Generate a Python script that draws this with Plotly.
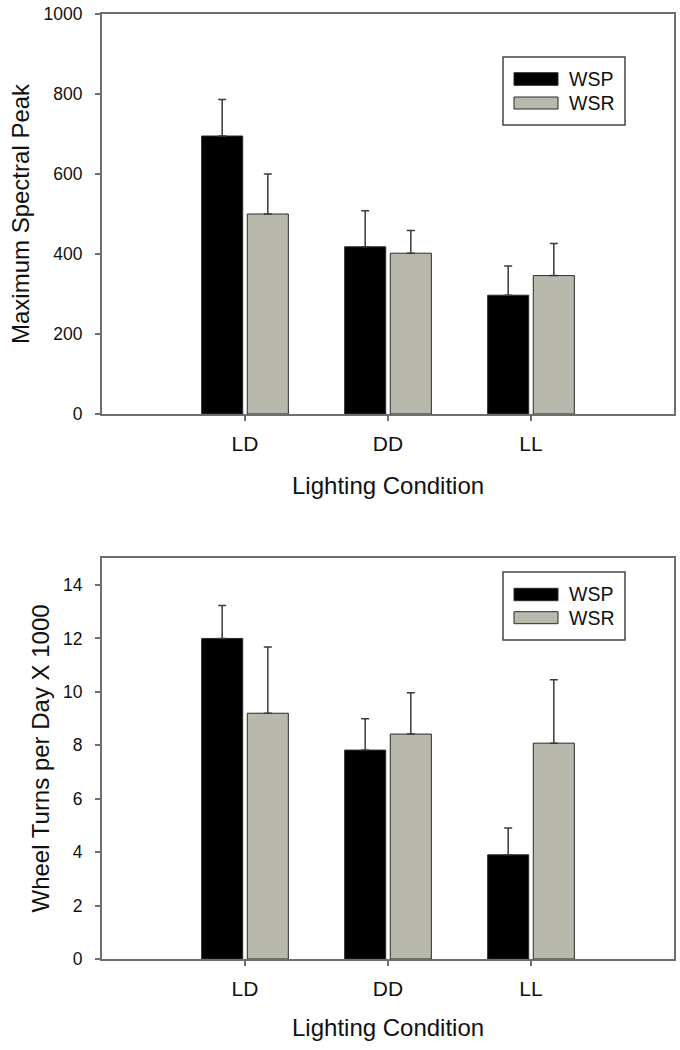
import plotly.graph_objects as go

# ---------------- data ----------------
conditions = ["LD", "DD", "LL"]
series_names = ["WSP", "WSR"]

peak_wsp = [695, 418, 297]
peak_wsp_err = [91, 90, 73]
peak_wsr = [500, 402, 346]
peak_wsr_err = [100, 57, 80]

turns_wsp = [12.0, 7.82, 3.90]
turns_wsp_err = [1.23, 1.17, 1.00]
turns_wsr = [9.2, 8.42, 8.08]
turns_wsr_err = [2.48, 1.55, 2.37]

peak_ticks = [0, 200, 400, 600, 800, 1000]
turns_ticks = [0, 2, 4, 6, 8, 10, 12, 14]

# ---------------- style ----------------
FONT = "Arial, 'Liberation Sans', Helvetica, sans-serif"
COL_WSP = "#000000"
COL_WSR = "#b8b8ac"
OUTLINE = "#2a2a2a"
AXIS = "#6e6e6e"
ERR = "#3a3a3a"
TXT = "#111111"

W, H = 680, 1050
ML = 102
MT = 14
MR = W - 674
MB = H - 959
PW = W - ML - MR
PH = H - MT - MB


def px_x(p):
    return (p - ML) / PW


def px_y(p):
    return (H - MB - p) / PH


fig = go.Figure()


def add_bars(vals, errs, name, color, xa, ya):
    fig.add_trace(go.Bar(
        x=conditions, y=vals, name=name,
        marker=dict(color=color, line=dict(color=OUTLINE, width=1)),
        error_y=dict(type="data", symmetric=False, array=errs,
                     arrayminus=[0] * len(errs), color=ERR,
                     thickness=1.5, width=4),
        xaxis=xa, yaxis=ya, showlegend=False,
    ))


add_bars(peak_wsp, peak_wsp_err, series_names[0], COL_WSP, "x", "y")
add_bars(peak_wsr, peak_wsr_err, series_names[1], COL_WSR, "x", "y")
add_bars(turns_wsp, turns_wsp_err, series_names[0], COL_WSP, "x2", "y2")
add_bars(turns_wsr, turns_wsr_err, series_names[1], COL_WSR, "x2", "y2")

top_dom = [px_y(414), 1.0]
bot_dom = [0.0, px_y(558.3)]

xcommon = dict(
    type="category", range=[-1, 3], showline=True, linecolor=AXIS,
    linewidth=2, mirror=True, ticks="outside", ticklen=5, tickwidth=1.5,
    tickcolor=AXIS, showgrid=False, zeroline=False, automargin=False,
    tickfont=dict(family=FONT, size=21, color=TXT),
    ticklabelstandoff=5, ticklabeloverflow="allow",
)
ycommon = dict(
    showline=True, linecolor=AXIS, linewidth=2, mirror=True,
    ticks="outside", ticklen=5, tickwidth=1.5, tickcolor=AXIS,
    showgrid=False, zeroline=False, automargin=False,
    tickfont=dict(family=FONT, size=17.5, color=TXT),
    ticklabelstandoff=9, ticklabeloverflow="allow",
)

fig.update_layout(
    template="none",
    width=W, height=H,
    margin=dict(l=ML, r=MR, t=MT, b=MB, autoexpand=False),
    paper_bgcolor="white", plot_bgcolor="white",
    barmode="group", bargap=0.362, bargroupgap=0.1,
    showlegend=False,
    xaxis=dict(xcommon, domain=[0, 1], anchor="y"),
    yaxis=dict(ycommon, domain=top_dom, anchor="x", range=[0, 1000],
               tickvals=peak_ticks),
    xaxis2=dict(xcommon, domain=[0, 1], anchor="y2"),
    yaxis2=dict(ycommon, domain=bot_dom, anchor="x2", range=[0, 15],
                tickvals=turns_ticks),
)

# ---------------- axis titles ----------------
title_font = dict(family=FONT, size=24, color=TXT)
fig.add_annotation(xref="paper", yref="paper", x=px_x(388), y=px_y(485),
                   text="Lighting Condition", showarrow=False,
                   xanchor="center", yanchor="middle", font=title_font)
fig.add_annotation(xref="paper", yref="paper", x=px_x(388), y=px_y(1027),
                   text="Lighting Condition", showarrow=False,
                   xanchor="center", yanchor="middle", font=title_font)
fig.add_annotation(xref="paper", yref="paper", x=px_x(20), y=px_y(214),
                   text="Maximum Spectral Peak", showarrow=False, textangle=-90,
                   xanchor="center", yanchor="middle", font=title_font)
fig.add_annotation(xref="paper", yref="paper", x=px_x(40), y=px_y(758.5),
                   text="Wheel Turns per Day X 1000", showarrow=False, textangle=-90,
                   xanchor="center", yanchor="middle", font=title_font)


# ---------------- custom legends ----------------
def legend(box_top, box_bot, sw_rows, txt_rows):
    fig.add_shape(type="rect", xref="paper", yref="paper",
                  x0=px_x(503), x1=px_x(625), y0=px_y(box_bot), y1=px_y(box_top),
                  line=dict(color="#444444", width=1.5), fillcolor="white")
    for (t, b), col, name, ty in zip(sw_rows, [COL_WSP, COL_WSR], series_names, txt_rows):
        fig.add_shape(type="rect", xref="paper", yref="paper",
                      x0=px_x(514), x1=px_x(558), y0=px_y(b), y1=px_y(t),
                      line=dict(color=OUTLINE, width=1), fillcolor=col)
        fig.add_annotation(xref="paper", yref="paper", x=px_x(567), y=px_y(ty),
                           text=name, showarrow=False, xanchor="left",
                           yanchor="middle",
                           font=dict(family=FONT, size=19.5, color=TXT))


legend(57, 125, [(72.7, 85.3), (97, 109)], [79, 103])
legend(572, 640, [(588.3, 600.7), (611.7, 623.7)], [594, 618])

fig.write_html("out.html",
               config={"displayModeBar": False},
               post_script="document.body.style.margin='0';"
                           "document.body.style.overflow='hidden';")
